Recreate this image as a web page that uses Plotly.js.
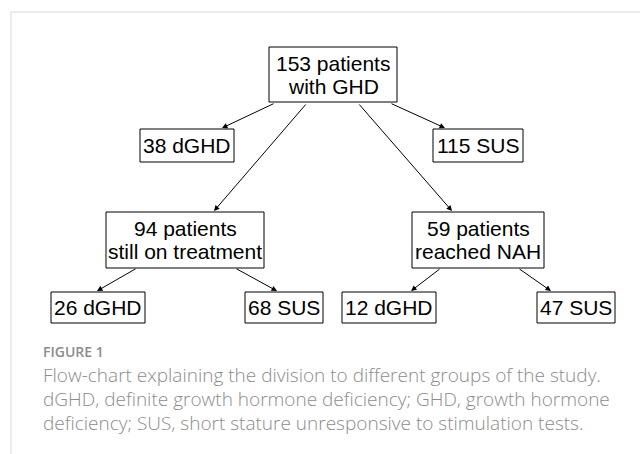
<!DOCTYPE html>
<html>
<head>
<meta charset="utf-8">
<script src="https://cdn.plot.ly/plotly-3.0.1.min.js"></script>
<style>
  body { margin: 0; background: #fff; }
  #chart { width: 640px; height: 454px; }
</style>
</head>
<body>
<div id="chart"></div>
<script>
// group sizes and their descriptions
var nodeCounts = [153, 38, 115, 94, 59, 26, 68, 12, 47];
var nodeLabels = ['patients<br>with GHD', 'dGHD', 'SUS',
                  'patients<br>still on treatment', 'patients<br>reached NAH',
                  'dGHD', 'SUS', 'dGHD', 'SUS'];
// parent -> child
var links = [[0, 1], [0, 3], [0, 2], [0, 4], [3, 5], [3, 6], [4, 7], [4, 8]];

var figLabel = 'FIGURE 1';
var captionLines = [
  'Flow-chart explaining the division to different groups of the study.',
  'dGHD, definite growth hormone deficiency; GHD, growth hormone',
  'deficiency; SUS, short stature unresponsive to stimulation tests.'
];

// box geometry in pixels [x0, x1, y0, y1]
var boxes = [
  [269, 397, 47, 102],
  [140, 234, 129, 162],
  [433, 523, 129, 162],
  [106, 264, 212, 268],
  [412, 544, 212, 268],
  [51, 145, 292, 323],
  [245, 323, 292, 323],
  [342, 436, 292, 323],
  [537, 615, 292, 323]
];
// arrow tail / tip for each link [ax, ay, x, y]
var arrows = [
  [275, 103, 222, 128],
  [307, 103, 214, 211],
  [390, 103, 445, 128],
  [358, 103, 452, 211],
  [137, 268, 97, 291],
  [235, 268, 277, 291],
  [441, 268, 411, 291],
  [518, 268, 551, 291]
];

var shapes = [];
var annotations = [];

// card frame
shapes.push({type: 'rect', x0: 11, x1: 700, y0: 12, y1: 520,
  line: {color: '#d9d9d9', width: 1}, fillcolor: 'rgba(0,0,0,0)'});

boxes.forEach(function(b, i) {
  shapes.push({type: 'rect', x0: b[0], x1: b[1], y0: b[2], y1: b[3],
    line: {color: '#000', width: 1}, fillcolor: '#fff'});
  var lines = (nodeCounts[i] + ' ' + nodeLabels[i]).split('<br>');
  var cy = (b[2] + b[3]) / 2;
  var lh = 23;
  lines.forEach(function(t, k) {
    annotations.push({
      x: (b[0] + b[1]) / 2, y: cy + (k - (lines.length - 1) / 2) * lh,
      text: t, showarrow: false, xanchor: 'center', yanchor: 'middle', borderpad: 0,
      font: {family: 'Liberation Sans, Arial, sans-serif', size: 21, color: '#000'}
    });
  });
});

links.forEach(function(l, i) {
  var a = arrows[i];
  annotations.push({
    x: a[2], y: a[3], ax: a[0], ay: a[1], axref: 'x', ayref: 'y',
    text: '', showarrow: true, arrowhead: 2, arrowsize: 1.1, arrowwidth: 1,
    arrowcolor: '#000', standoff: 0, startstandoff: 0
  });
});

annotations.push({
  x: 42, y: 351, text: figLabel, showarrow: false, xanchor: 'left', yanchor: 'middle',
  borderpad: 0,
  font: {family: 'Open Sans, sans-serif', size: 14, color: '#8c8c8c', weight: 600}
});
captionLines.forEach(function(t, k) {
  annotations.push({
    x: 42, y: 375 + k * 24, text: t, showarrow: false, xanchor: 'left', yanchor: 'middle',
    borderpad: 0,
    font: {family: 'Open Sans, sans-serif', size: 19, color: '#8c8c8c', weight: 300}
  });
});

var layout = {
  width: 640, height: 454,
  margin: {l: 0, r: 0, t: 0, b: 0},
  paper_bgcolor: '#fff', plot_bgcolor: '#fff',
  xaxis: {range: [0, 640], visible: false, fixedrange: true},
  yaxis: {range: [454, 0], visible: false, fixedrange: true},
  showlegend: false,
  shapes: shapes,
  annotations: annotations
};

Plotly.newPlot('chart', [], layout, {displayModeBar: false, staticPlot: true});
</script>
</body>
</html>
